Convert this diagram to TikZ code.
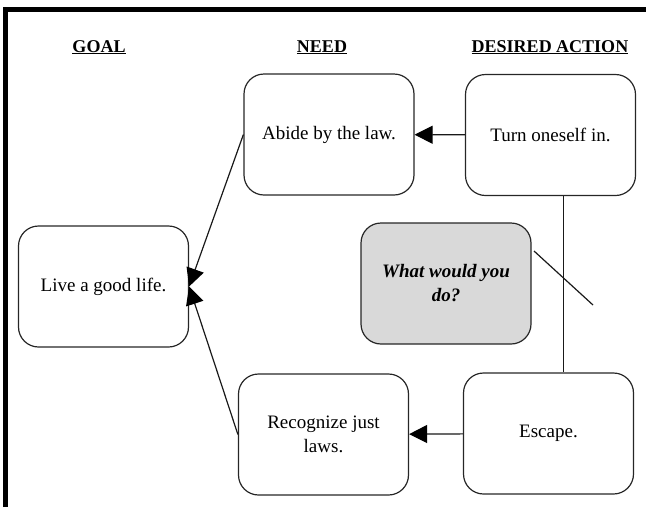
\documentclass[tikz,border=0pt]{standalone}
\usepackage{fontspec}
\setmainfont{Liberation Serif}
\usetikzlibrary{arrows.meta}
\begin{document}
\begin{tikzpicture}[x=1pt,y=-1pt]
	\useasboundingbox (0,0) rectangle (646,507);
	% frame
	\draw [line width=5pt] (5,507) -- (5,9.5) -- (646,9.5);

	\begin{scope}[every node/.style={font=\fontsize{18}{20}\selectfont\bfseries,anchor=base}]
		\node (goalhead) at (99,52) {\underline{GOAL}};
		\node (needhead) at (322,52) {\underline{NEED}};
		\node (acthead) at (550,52) {\underline{DESIRED ACTION}};
	\end{scope}

	\begin{scope}[every node/.style={rectangle,rounded corners=20pt,draw=black!85,line width=1.2pt,
			minimum width=170pt,minimum height=121pt,inner sep=0pt,align=center,
			font=\fontsize{19}{24}\selectfont}]
		\node (abide) at (329,134.5) {Abide by the law.};
		\node (turn) at (550.5,135) {Turn oneself in.};
		\node (live) at (103.5,286.5) {Live a good life.};
		\node (recog) at (323.5,434.5) {Recognize just\\laws.};
		\node (escape) at (548.5,433.5) {Escape.};
		\node [fill=black!15] (ask) at (446,283.5) {\bfseries\itshape What would you\\\bfseries\itshape do?};
	\end{scope}

	\coordinate (slashA) at (534,251);
	\coordinate (slashB) at (593,305);

	\begin{scope}[every edge/.style={draw=black!90,line width=1.2pt}]
		\path [-{Triangle[length=18pt,width=18pt,color=black]}] (turn) edge (abide);
		\path [-{Triangle[length=18pt,width=18pt,color=black]}] (escape) edge (recog);
		\path [-{Triangle[length=18pt,width=18pt,color=black]}] (abide.west) edge (live.east);
		\path [-{Triangle[length=18pt,width=18pt,color=black]}] (recog.west) edge (live.east);
		\path ([xshift=13pt]turn.south) edge ([xshift=13pt]turn.south |- escape.north);
		\path (slashA) edge (slashB);
	\end{scope}
\end{tikzpicture}
\end{document}
